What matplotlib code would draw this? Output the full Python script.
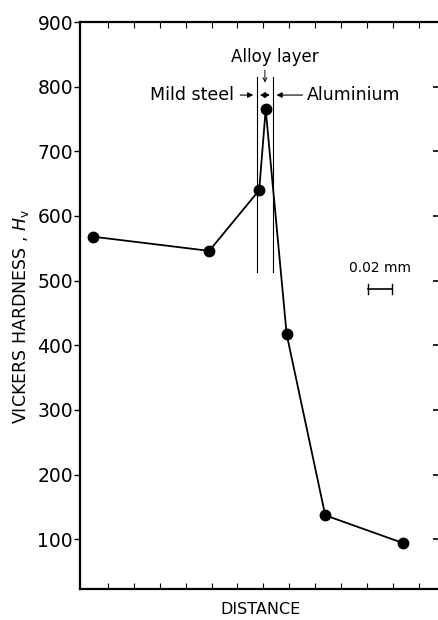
import matplotlib
matplotlib.use('Agg')
import matplotlib.pyplot as plt

# hardness profile across the joint
distance = [0.41, 4.91, 6.84, 7.09, 7.90, 9.39, 12.40]
hardness = [568, 546, 640, 765, 417, 137, 94]

# interface lines (alloy layer boundaries)
boundary_x = [6.74, 7.38]
boundary_y = [513, 815]

y_ticks = [100, 200, 300, 400, 500, 600, 700, 800, 900]
x_ticks = list(range(1, 14))

plt.rcParams['font.family'] = 'DejaVu Sans'
plt.rcParams['mathtext.fontset'] = 'dejavusans'

fig = plt.figure(figsize=(4.39, 6.20), dpi=100)
ax = fig.add_axes([80 / 439, 31 / 620, 361 / 439, 567 / 620])

ax.plot(distance, hardness, color='black', linewidth=1.3,
        marker='o', markersize=7.5, markerfacecolor='black', markeredgecolor='black')

for bx in boundary_x:
    ax.plot([bx, bx], boundary_y, color='black', linewidth=0.8)

ax.set_xlim(-0.08, 13.86)
ax.set_ylim(23, 900)

ax.set_yticks(y_ticks)
ax.tick_params(axis='y', direction='out', length=4, width=1,
               labelsize=13.5, pad=1)

ax.set_xticks(x_ticks)
ax.set_xticklabels([])
ax.tick_params(axis='x', direction='in', length=4, width=0.8, top=True, bottom=True)

for s in ['left', 'top', 'bottom']:
    ax.spines[s].set_linewidth(1.6)
ax.spines['right'].set_visible(False)

# right side ticks only (no visible spine)
ax2 = ax.twinx()
ax2.set_ylim(23, 900)
ax2.set_yticks(y_ticks)
ax2.set_yticklabels([])
ax2.tick_params(axis='y', direction='in', length=6, width=1.2)
for s in ax2.spines.values():
    s.set_visible(False)

ax.set_xlabel('DISTANCE', fontsize=11.5, labelpad=6)
ax.set_ylabel(r'VICKERS HARDNESS , $H_{\mathrm{v}}$', fontsize=12.5)
ax.yaxis.set_label_coords(-0.135, 0.48)

# layer labels and arrows
ax.text(5.86, 787, 'Mild steel', fontsize=12.5, ha='right', va='center')
ax.annotate('', xy=(6.72, 787), xytext=(6.00, 787),
            arrowprops=dict(arrowstyle='-|>', color='black', lw=0.8, mutation_scale=8))
ax.annotate('', xy=(6.76, 787), xytext=(7.36, 787),
            arrowprops=dict(arrowstyle='<|-|>', color='black', lw=0.8, mutation_scale=8))
ax.annotate('', xy=(7.40, 787), xytext=(8.62, 787),
            arrowprops=dict(arrowstyle='-|>', color='black', lw=0.8, mutation_scale=8))
ax.text(8.68, 787, 'Aluminium', fontsize=12.5, ha='left', va='center')

ax.text(7.45, 846, 'Alloy layer', fontsize=12, ha='center', va='center')
ax.annotate('', xy=(7.06, 802), xytext=(7.06, 830),
            arrowprops=dict(arrowstyle='->', color='black', lw=0.7, mutation_scale=7))

# scale bar
ax.text(11.5, 519, '0.02 mm', fontsize=10, ha='center', va='center')
ax.plot([11.04, 11.97], [487, 487], color='black', linewidth=1.2)
ax.plot([11.04, 11.04], [480, 494], color='black', linewidth=1.0)
ax.plot([11.97, 11.97], [480, 494], color='black', linewidth=1.0)

plt.savefig('out.png', dpi=100)
plt.close()
